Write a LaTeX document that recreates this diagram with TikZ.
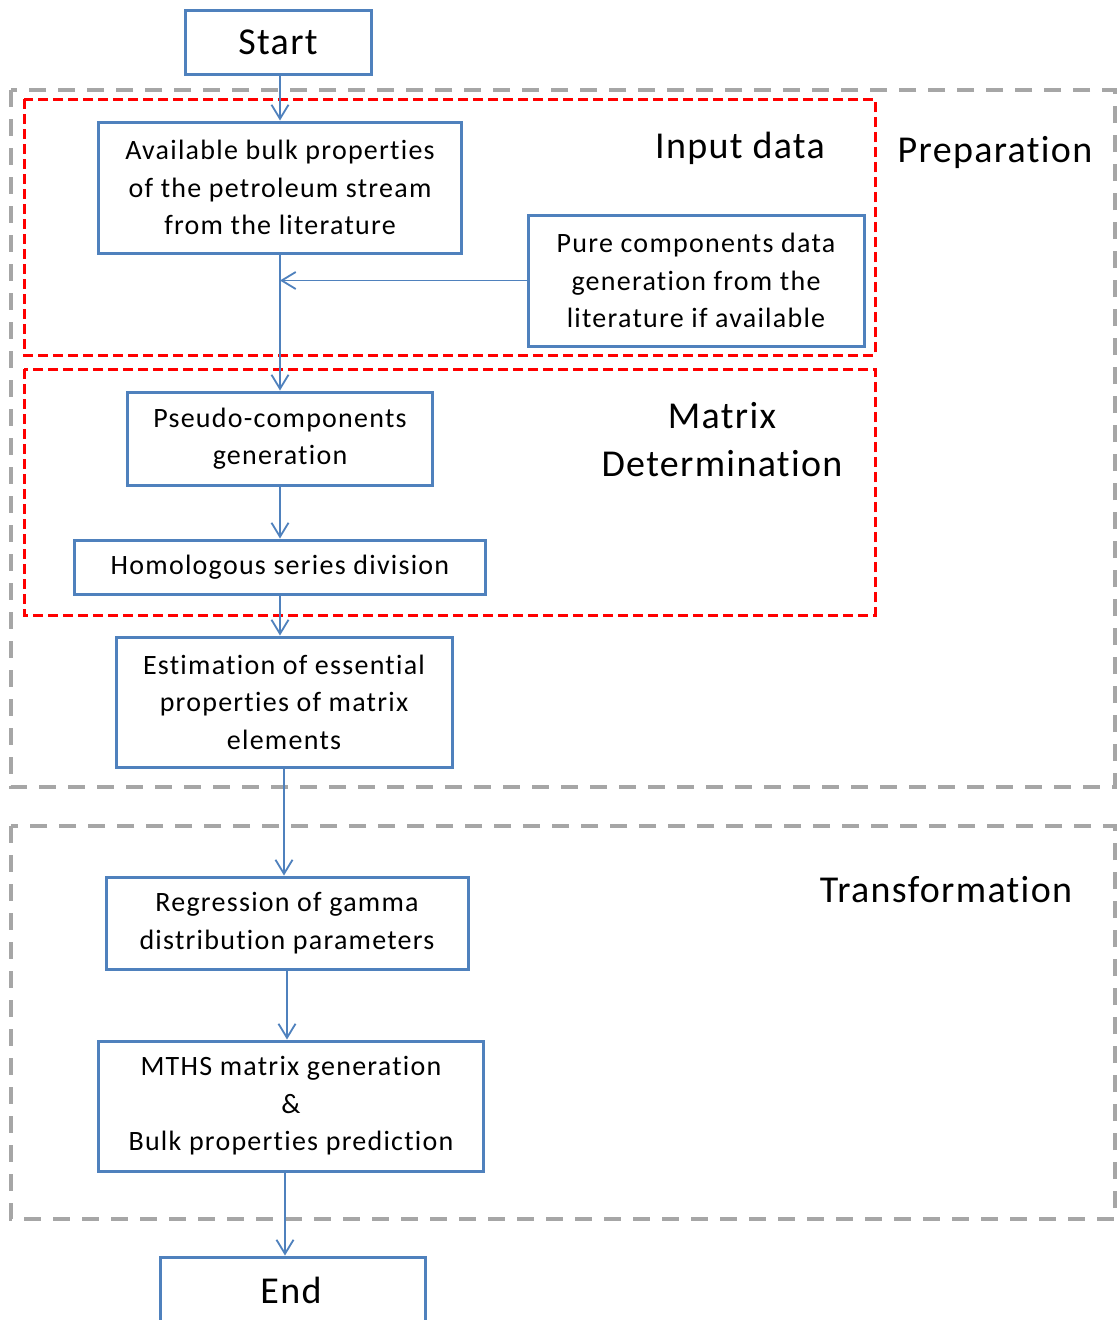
\documentclass[tikz,border=0pt]{standalone}
\usepackage{fontspec}
\setmainfont{Carlito}[Ligatures=NoCommon]
\newfontfamily\stepfont{Carlito}[LetterSpace=4.5, Ligatures=NoCommon]
\newfontfamily\labelfont{Carlito}[LetterSpace=3.5, Ligatures=NoCommon]
\usetikzlibrary{arrows.meta}
\definecolor{boxblue}{HTML}{4F81BD}
\definecolor{groupgray}{HTML}{A6A6A6}
\definecolor{groupred}{HTML}{FF0000}
\tikzset{
  stepbox/.style={draw=boxblue, line width=3pt, fill=white, inner sep=0pt, align=center,
    font=\stepfont\fontsize{28}{37.5}\selectfont},
  termbox/.style={stepbox, font=\labelfont\fontsize{38}{46}\selectfont},
  conn/.style={draw=boxblue, line width=1.8pt, -{Straight Barb[length=14pt,width=17pt,line width=1.8pt]}},
  graygroup/.style={draw=groupgray, line width=4pt, dash pattern=on 17pt off 12pt},
  redgroup/.style={draw=groupred, line width=3pt, dash pattern=on 10pt off 5pt},
  grouplabel/.style={inner sep=0pt, align=center, font=\labelfont\fontsize{38}{48}\selectfont}
}
\begin{document}
\begin{tikzpicture}[x=1pt, y=-1pt]
\clip (0,0) rectangle (1117,1320);
\fill[white] (0,0) rectangle (1117,1320);

% phase groups
\draw[graygroup] (11,90) rectangle (1115,787);
\draw[redgroup] (24,99) rectangle (875,355);
\draw[redgroup] (24,369) rectangle (875,615);
\draw[graygroup] (11,826) rectangle (1115,1219);

% group labels
\node[grouplabel] (lblinput) at (740,148) {Input data};
\node[grouplabel] (lblprep) at (995,152) {Preparation};
\node[grouplabel] (lblmatrix) at (722,440) {Matrix\\Determination};
\node[grouplabel] (lbltrans) at (946,890) {Transformation};

% process steps
\node[termbox, minimum width=186pt, minimum height=64pt] (start) at (278,42) {Start};
\node[stepbox, minimum width=363pt, minimum height=131pt] (bulk) at (280,187.5)
  {Available bulk properties\\of the petroleum stream\\from the literature};
\node[stepbox, minimum width=336pt, minimum height=131pt] (pure) at (696,280.5)
  {Pure components data\\generation from the\\literature if available};
\node[stepbox, minimum width=305pt, minimum height=93pt] (pseudo) at (280,438.5)
  {Pseudo-components\\generation};
\node[stepbox, minimum width=411pt, minimum height=54pt] (homol) at (280,567)
  {Homologous series division};
\node[stepbox, minimum width=336pt, minimum height=130pt] (estim) at (284,702)
  {Estimation of essential\\properties of matrix\\elements};
\node[stepbox, minimum width=362pt, minimum height=92pt] (regr) at (287,923)
  {Regression of gamma\\distribution parameters};
\node[stepbox, minimum width=385pt, minimum height=130pt] (mths) at (291,1106)
  {MTHS matrix generation\\\&\\Bulk properties prediction};
\node[termbox, minimum width=265pt, minimum height=70pt] (end) at (292.5,1292) {};
\node[inner sep=0pt, font=\labelfont\fontsize{38}{46}\selectfont] (endtext) at (291,1290) {End};

% connectors
\draw[conn] (start.south -| bulk.north) -- (bulk.north);
\draw[conn] (bulk.south) -- (pseudo.north);
\draw[conn] (pure.west) -- (pure.west -| bulk.south);
\draw[conn] (pseudo.south) -- (homol.north);
\draw[conn] (homol.south) -- (homol.south |- estim.north);
\draw[conn] (estim.south) -- (estim.south |- regr.north);
\draw[conn] (regr.south) -- (regr.south |- mths.north);
\draw[conn] ([xshift=-6pt]mths.south) -- ([xshift=-6pt]mths.south |- end.north);
\end{tikzpicture}
\end{document}
